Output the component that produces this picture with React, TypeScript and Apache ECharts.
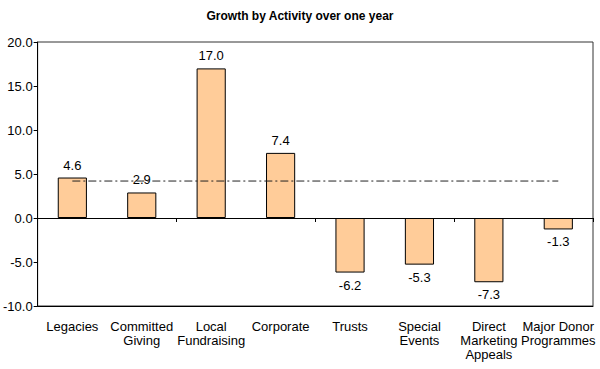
import React, { useEffect, useRef } from "react";
import * as echarts from "echarts";

const categories = [
  "Legacies",
  "Committed\nGiving",
  "Local\nFundraising",
  "Corporate",
  "Trusts",
  "Special\nEvents",
  "Direct\nMarketing\nAppeals",
  "Major Donor\nProgrammes",
];
const growthValues = [4.6, 2.9, 17.0, 7.4, -6.2, -5.3, -7.3, -1.3];
const overallGrowth = [4.2, 4.2, 4.2, 4.2, 4.2, 4.2, 4.2, 4.2];
const yTicks = { min: -10, max: 20, interval: 5 };

const FONT = "'Liberation Sans', Arial, sans-serif";

export default function App() {
  const ref = useRef<HTMLDivElement>(null);
  useEffect(() => {
    document.body.style.margin = "0";
    const chart = echarts.init(ref.current!, null, { renderer: "svg" });
    chart.setOption({
      animation: false,
      backgroundColor: "#fff",
      textStyle: { fontFamily: FONT },
      title: {
        text: "Growth by Activity over one year",
        left: "center",
        top: 5,
        textStyle: { fontSize: 12, fontWeight: "bold", color: "#000", fontFamily: FONT },
      },
      grid: {
        left: 36,
        right: 7,
        top: 42,
        bottom: 63,
        show: true,
        borderColor: "#333",
        borderWidth: 1,
        backgroundColor: "#fff",
      },
      xAxis: [
        {
          type: "category",
          data: categories,
          position: "bottom",
          axisLine: { show: true, onZero: true, lineStyle: { color: "#000", width: 1 } },
          axisTick: { show: true, length: 4, lineStyle: { color: "#000" } },
          axisLabel: { show: false },
          splitLine: { show: false },
          z: 5,
        },
        {
          type: "category",
          data: categories,
          position: "bottom",
          axisLine: { show: true, onZero: false, lineStyle: { color: "#000", width: 1 } },
          axisTick: { show: false },
          axisLabel: {
            show: true,
            interval: 0,
            margin: 13,
            color: "#000",
            fontSize: 13,
            lineHeight: 14,
            fontFamily: FONT,
          },
          splitLine: { show: false },
        },
      ],
      yAxis: {
        type: "value",
        min: yTicks.min,
        max: yTicks.max,
        interval: yTicks.interval,
        axisLine: { show: true, lineStyle: { color: "#000", width: 1 } },
        axisTick: { show: true, length: 4, lineStyle: { color: "#000" } },
        axisLabel: {
          color: "#000",
          fontSize: 13,
          margin: 5,
          fontFamily: FONT,
          formatter: (v: number) => v.toFixed(1),
        },
        splitLine: { show: false },
      },
      series: [
        {
          type: "bar",
          xAxisIndex: 0,
          barWidth: "42%",
          data: growthValues.map((v) => ({
            value: v,
            label: { position: v >= 0 ? "top" : "bottom" },
          })),
          itemStyle: { color: "#FFCC99", borderColor: "#000", borderWidth: 1 },
          label: {
            show: true,
            distance: 6,
            color: "#000",
            fontSize: 13,
            fontFamily: FONT,
            formatter: (p: any) => Number(p.value).toFixed(1),
          },
          z: 2,
        },
        {
          type: "line",
          xAxisIndex: 0,
          data: overallGrowth,
          symbol: "none",
          lineStyle: { color: "#222", width: 1, type: [8, 3, 2, 3] },
          z: 6,
        },
      ],
    });
    return () => chart.dispose();
  }, []);
  return <div ref={ref} style={{ width: 600, height: 369 }} />;
}
